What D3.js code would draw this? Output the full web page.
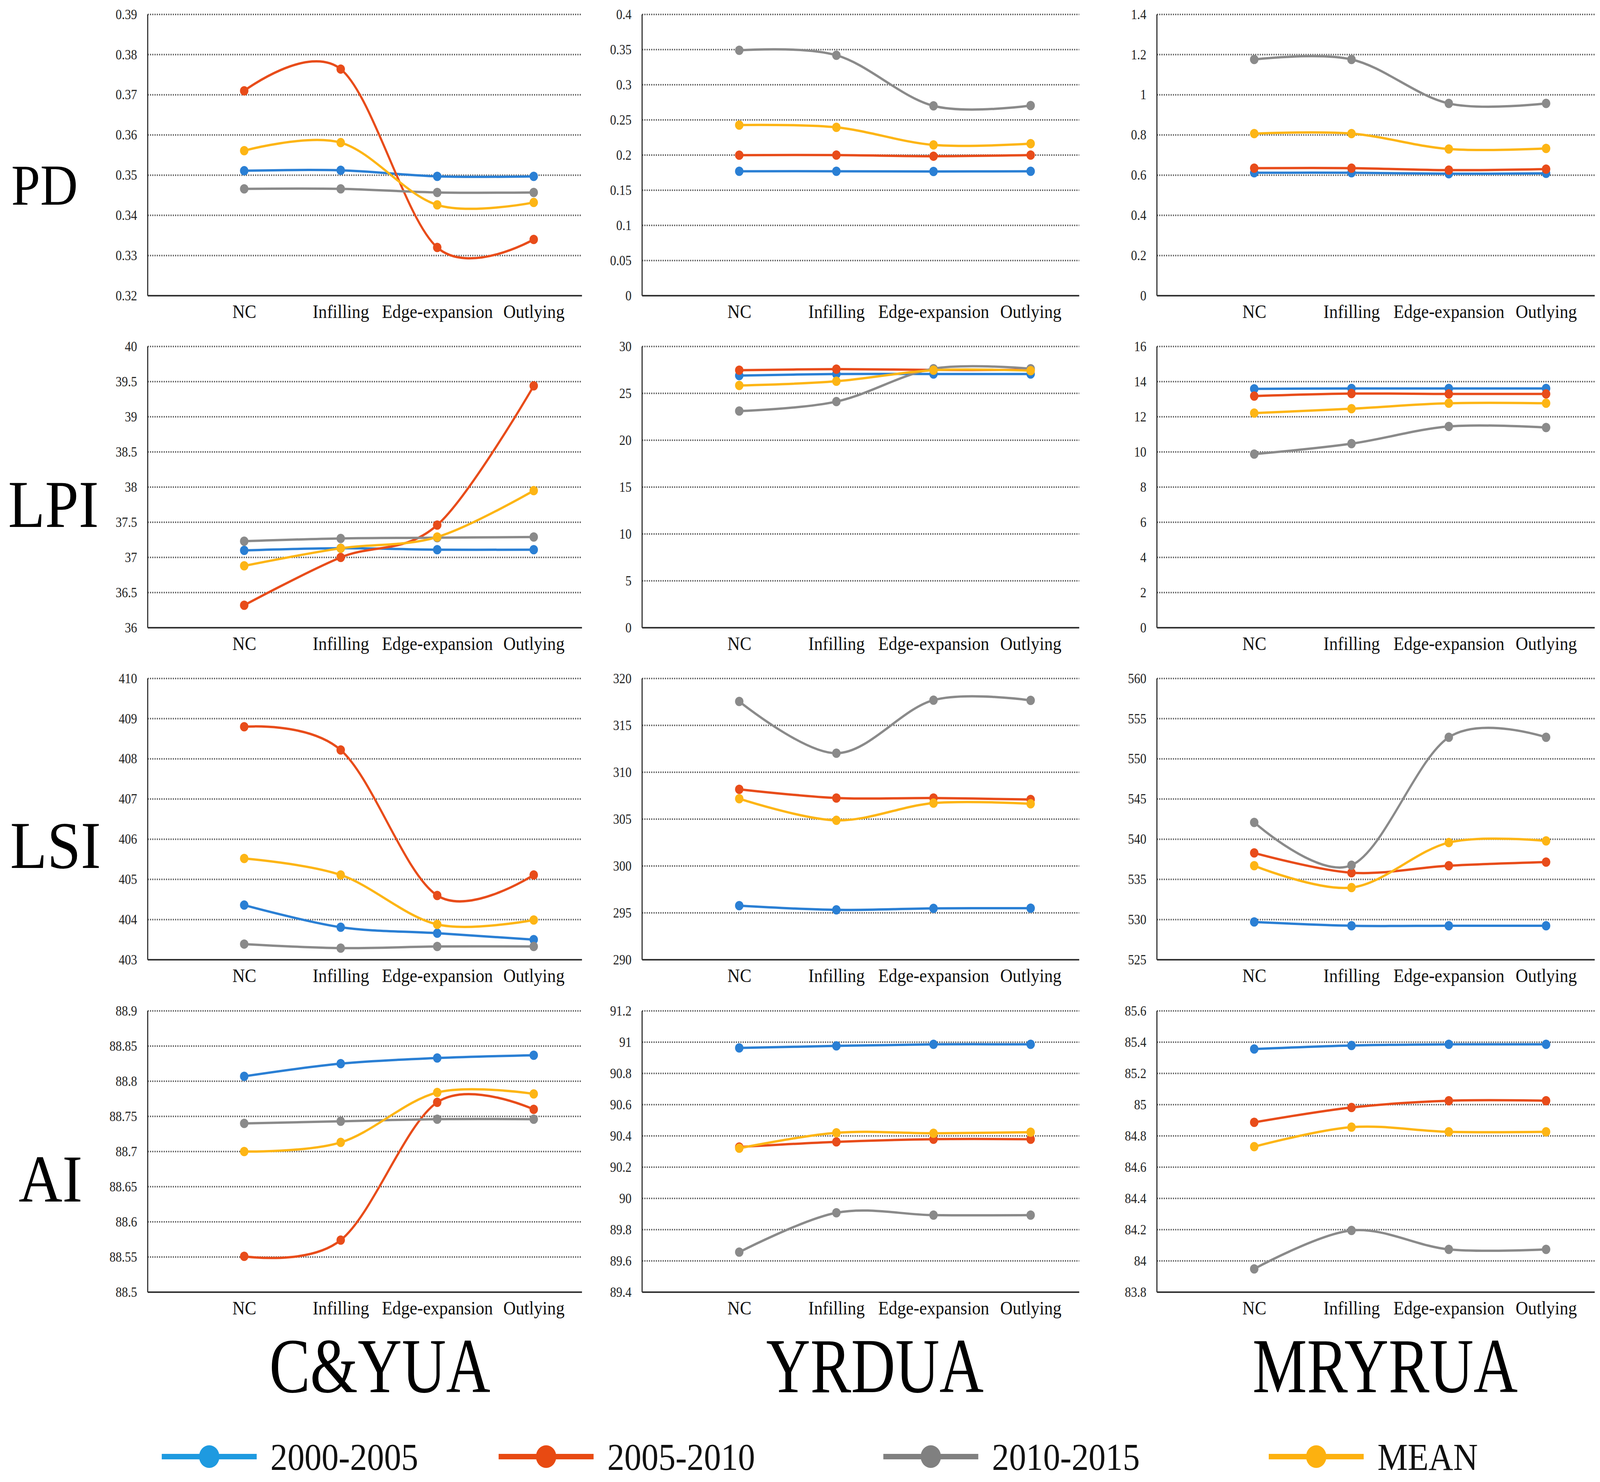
<!DOCTYPE html>
<html>
<head>
<meta charset="utf-8">
<script src="https://cdn.jsdelivr.net/npm/d3@7"></script>
<style>
  html, body { margin: 0; padding: 0; width: 100%; height: 100%; overflow: hidden; background: #fff; }
  svg { display: block; width: 100vw; height: 100vh; font-family: "Liberation Serif", "Times New Roman", serif; }
</style>
</head>
<body>
<svg id="chart" viewBox="0 0 4550 3794" preserveAspectRatio="none"></svg>
<script>
// categories, series, panels
const categories = ["NC", "Infilling", "Edge-expansion", "Outlying"];
const seriesNames = ["2000-2005", "2005-2010", "2010-2015", "MEAN"];
const metrics = ["PD", "LPI", "LSI", "AI"];
const regions = ["C&YUA", "YRDUA", "MRYRUA"];

// values per panel: [2000-2005, 2005-2010, 2010-2015, MEAN] x categories
const pd_cyua = [[0.3511, 0.3512, 0.3497, 0.3497], [0.3710, 0.3764, 0.3320, 0.3340], [0.3466, 0.3466, 0.3457, 0.3457], [0.3561, 0.3581, 0.3426, 0.3432]];
const pd_yrdua = [[0.177, 0.177, 0.1767, 0.177], [0.1999, 0.200, 0.1984, 0.200], [0.349, 0.342, 0.270, 0.2704], [0.2427, 0.2394, 0.2144, 0.2162]];
const pd_mryrua = [[0.612, 0.612, 0.607, 0.609], [0.635, 0.635, 0.625, 0.630], [1.176, 1.176, 0.957, 0.957], [0.807, 0.807, 0.730, 0.733]];

const lpi_cyua = [[37.10, 37.13, 37.11, 37.11], [36.32, 37.00, 37.46, 39.44], [37.23, 37.27, 37.28, 37.29], [36.88, 37.13, 37.29, 37.95]];
const lpi_yrdua = [[26.90, 27.06, 27.06, 27.06], [27.47, 27.58, 27.50, 27.50], [23.11, 24.12, 27.63, 27.63], [25.84, 26.29, 27.47, 27.42]];
const lpi_mryrua = [[13.59, 13.61, 13.61, 13.61], [13.18, 13.32, 13.30, 13.30], [9.88, 10.47, 11.45, 11.39], [12.21, 12.46, 12.77, 12.77]];

const lsi_cyua = [[404.36, 403.81, 403.66, 403.50], [408.80, 408.22, 404.60, 405.11], [403.39, 403.29, 403.33, 403.33], [405.52, 405.11, 403.88, 403.99]];
const lsi_yrdua = [[295.77, 295.32, 295.48, 295.50], [308.18, 307.25, 307.25, 307.09], [317.55, 312.03, 317.69, 317.67], [307.18, 304.87, 306.71, 306.64]];
const lsi_mryrua = [[529.70, 529.23, 529.23, 529.23], [538.29, 535.83, 536.70, 537.15], [542.09, 536.76, 552.68, 552.68], [536.70, 533.98, 539.58, 539.79]];

const ai_cyua = [[88.807, 88.825, 88.833, 88.837], [88.551, 88.574, 88.770, 88.760], [88.740, 88.743, 88.746, 88.746], [88.700, 88.713, 88.784, 88.782]];
const ai_yrdua = [[90.963, 90.976, 90.986, 90.986], [90.329, 90.362, 90.379, 90.379], [89.656, 89.908, 89.893, 89.893], [90.321, 90.420, 90.417, 90.424]];
const ai_mryrua = [[85.356, 85.379, 85.386, 85.386], [84.887, 84.982, 85.025, 85.025], [83.949, 84.195, 84.074, 84.074], [84.731, 84.856, 84.826, 84.826]];

// y axis ranges [min, max] and tick counts, per metric row / region column
const yDomains = [
  [[0.32, 0.39], [0, 0.4], [0, 1.4]],
  [[36, 40], [0, 30], [0, 16]],
  [[403, 410], [290, 320], [525, 560]],
  [[88.5, 88.9], [89.4, 91.2], [83.8, 85.6]]
];
const yTickCounts = [
  [7, 8, 7],
  [8, 6, 8],
  [7, 6, 7],
  [8, 9, 9]
];

const panelValues = [
  [pd_cyua, pd_yrdua, pd_mryrua],
  [lpi_cyua, lpi_yrdua, lpi_mryrua],
  [lsi_cyua, lsi_yrdua, lsi_mryrua],
  [ai_cyua, ai_yrdua, ai_mryrua]
];

// layout
const colors = ["#2A7FD4", "#E84C1A", "#8A8A8A", "#FDB515"];
const legendColors = ["#1E9AE0", "#E84A12", "#808080", "#FDB10F"];
const rowTop = [37, 887, 1737, 2588];
const plotH = 720;
const colLeft = [420, 1826, 3290];
const colRight = [1655, 3069, 4535];
const rowLabelLayout = [
  {x: 32, size: 148, mid: 438},
  {x: 23, size: 172, mid: 405},
  {x: 29, size: 172, mid: 428},
  {x: 53, size: 172, mid: 431}
];

const svg = d3.select("#chart");
svg.append("rect").attr("width", 4550).attr("height", 3794).attr("fill", "#fff");

const fmt = d => String(+d.toFixed(4));
const line = d3.line().curve(d3.curveCardinal.tension(0));

metrics.forEach((metric, r) => {
  const lay = rowLabelLayout[r];
  svg.append("text")
    .attr("x", lay.x)
    .attr("y", rowTop[r] + lay.mid + lay.size * 0.33)
    .attr("font-size", lay.size)
    .attr("fill", "#000")
    .text(metric);

  regions.forEach((region, c) => {
    const top = rowTop[r], bottom = top + plotH;
    const x = d3.scalePoint()
      .domain(categories)
      .range([colLeft[c], colRight[c]])
      .padding(0.75)
      .align(2 / 3);
    const y = d3.scaleLinear()
      .domain(yDomains[r][c])
      .range([bottom, top]);
    const ticks = y.ticks(yTickCounts[r][c]);

    const g = svg.append("g");

    // dotted gridlines
    g.selectAll("line.grid")
      .data(ticks.filter(t => Math.abs(y(t) - bottom) > 1))
      .enter().append("line")
      .attr("class", "grid")
      .attr("x1", colLeft[c]).attr("x2", colRight[c])
      .attr("y1", d => y(d)).attr("y2", d => y(d))
      .attr("stroke", "#555")
      .attr("stroke-width", 4)
      .attr("stroke-dasharray", "3,3.5");

    // y axis labels
    const yAxis = d3.axisLeft(y).tickValues(ticks).tickSize(0).tickPadding(30).tickFormat(fmt);
    g.append("g")
      .attr("transform", `translate(${colLeft[c]},0)`)
      .call(yAxis)
      .call(a => a.select(".domain").remove())
      .call(a => a.selectAll("text")
        .attr("font-family", "Liberation Serif")
        .attr("font-size", 35)
        .attr("fill", "#222"));

    // x axis labels
    const xAxis = d3.axisBottom(x).tickSize(0).tickPadding(22);
    g.append("g")
      .attr("transform", `translate(0,${bottom})`)
      .call(xAxis)
      .call(a => a.select(".domain").remove())
      .call(a => a.selectAll("text")
        .attr("font-family", "Liberation Serif")
        .attr("font-size", 49)
        .attr("fill", "#111"));

    // axis lines
    g.append("line")
      .attr("x1", colLeft[c]).attr("x2", colLeft[c])
      .attr("y1", top).attr("y2", bottom)
      .attr("stroke", "#222").attr("stroke-width", 3);
    g.append("line")
      .attr("x1", colLeft[c]).attr("x2", colRight[c])
      .attr("y1", bottom).attr("y2", bottom)
      .attr("stroke", "#333").attr("stroke-width", 4);

    // series
    panelValues[r][c].forEach((vals, s) => {
      const pts = vals.map((v, i) => [x(categories[i]), y(v)]);
      g.append("path")
        .attr("d", line(pts))
        .attr("fill", "none")
        .attr("stroke", colors[s])
        .attr("stroke-width", 6);
      g.selectAll(null)
        .data(pts)
        .enter().append("circle")
        .attr("cx", d => d[0]).attr("cy", d => d[1])
        .attr("r", 12)
        .attr("fill", colors[s]);
    });
  });
});

// column titles
const titleX = [1080, 2488, 3939];
regions.forEach((region, c) => {
  svg.append("text")
    .attr("transform", `translate(${titleX[c]},3564) scale(0.87,1)`)
    .attr("text-anchor", "middle")
    .attr("font-size", 200)
    .attr("fill", "#000")
    .text(region);
});

// legend
const legendX = [595, 1553, 2647, 3743];
const legendY = 3729;
seriesNames.forEach((name, s) => {
  const lg = svg.append("g").attr("transform", `translate(${legendX[s]},${legendY})`);
  lg.append("line")
    .attr("x1", -135).attr("x2", 135)
    .attr("stroke", legendColors[s]).attr("stroke-width", 14);
  lg.append("circle").attr("r", 29).attr("fill", legendColors[s]);
  lg.append("text")
    .attr("x", 174)
    .attr("y", 34)
    .attr("font-size", 97)
    .attr("fill", "#111")
    .text(name);
});
</script>
</body>
</html>
